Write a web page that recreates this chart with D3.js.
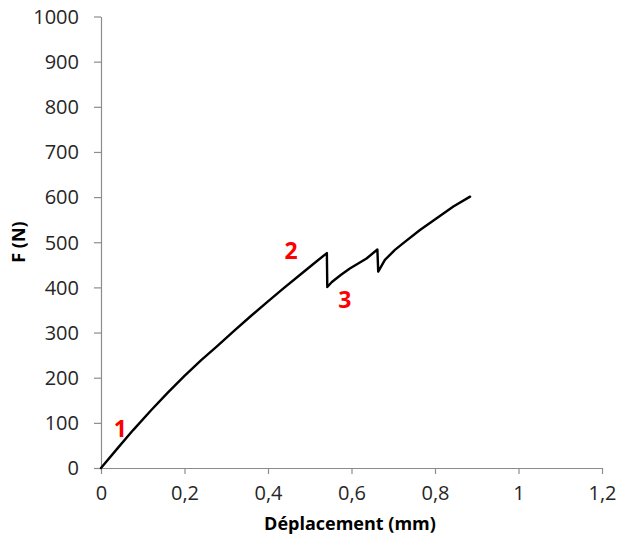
<!DOCTYPE html>
<html><head><meta charset="utf-8">
<script src="https://cdn.jsdelivr.net/npm/d3@7"></script>
<style>body{margin:0;background:#fff}svg{display:block}</style>
</head><body>
<script>
const dispX = [0, 0.04, 0.077, 0.12, 0.16, 0.2, 0.24, 0.277, 0.32, 0.357, 0.4, 0.437, 0.477, 0.51, 0.541, 0.542, 0.553, 0.575, 0.596, 0.636, 0.662, 0.664, 0.68, 0.704, 0.724, 0.764, 0.804, 0.844, 0.884];
const forceF = [0, 44, 84, 128, 167, 204, 239, 269, 305, 335, 369, 398, 428, 453, 476, 401, 412, 428, 442, 464, 484, 435, 461, 483, 498, 527, 553, 579, 601];
const xTicks = [0, 0.2, 0.4, 0.6, 0.8, 1, 1.2];
const yTicks = [0, 100, 200, 300, 400, 500, 600, 700, 800, 900, 1000];
const markLabels = ["1", "2", "3"];
const markX = [0.046, 0.455, 0.584];
const markY = [86, 482, 373];

const W = 621, H = 542;
const svg = d3.select("body").append("svg").attr("width", W).attr("height", H);
const x = d3.scaleLinear().domain([0, 1.2]).range([101, 602]);
const y = d3.scaleLinear().domain([0, 1000]).range([468, 16.5]);
const fmt = d => String(d).replace(".", ",");
const axisColor = "#8c8c8c";
const font = "'Open Sans', sans-serif";

const gx = svg.append("g").attr("transform", `translate(0,${y(0)})`)
  .call(d3.axisBottom(x).tickValues(xTicks).tickFormat(fmt).tickSizeInner(6).tickSizeOuter(0).tickPadding(12));
const gy = svg.append("g").attr("transform", `translate(${x(0)},0)`)
  .call(d3.axisLeft(y).tickValues(yTicks).tickFormat(d => d).tickSizeInner(7).tickSizeOuter(0).tickPadding(15));
[gx, gy].forEach(g => {
  g.select(".domain").attr("stroke", axisColor).attr("stroke-width", 1.2);
  g.selectAll(".tick line").attr("stroke", axisColor).attr("stroke-width", 1.2);
  g.selectAll(".tick text").attr("fill", "#262626").style("font-family", font).style("font-size", "20px");
});
gy.selectAll(".tick text").attr("dy", "0.34em");

const pts = dispX.map((d, i) => [d, forceF[i]]);
svg.append("path").datum(pts)
  .attr("fill", "none").attr("stroke", "#000").attr("stroke-width", 2.4)
  .attr("stroke-linejoin", "round").attr("stroke-linecap", "round")
  .attr("d", d3.line().x(d => x(d[0])).y(d => y(d[1])));

svg.selectAll("text.mark").data(markLabels).enter().append("text")
  .attr("class", "mark")
  .attr("x", (d, i) => x(markX[i])).attr("y", (d, i) => y(markY[i]))
  .attr("text-anchor", "middle").attr("dy", "0.36em")
  .attr("fill", "#ff0000").style("font-family", font).style("font-weight", "bold").style("font-size", "23px")
  .text(d => d);

svg.append("text").attr("x", 350).attr("y", 530)
  .attr("text-anchor", "middle").attr("fill", "#000")
  .style("font-family", font).style("font-weight", "bold").style("font-size", "18px")
  .text("Déplacement (mm)");
svg.append("text").attr("transform", `translate(25,242) rotate(-90)`)
  .attr("text-anchor", "middle").attr("fill", "#000")
  .style("font-family", font).style("font-weight", "bold").style("font-size", "18px")
  .text("F (N)");
</script>
</body></html>
